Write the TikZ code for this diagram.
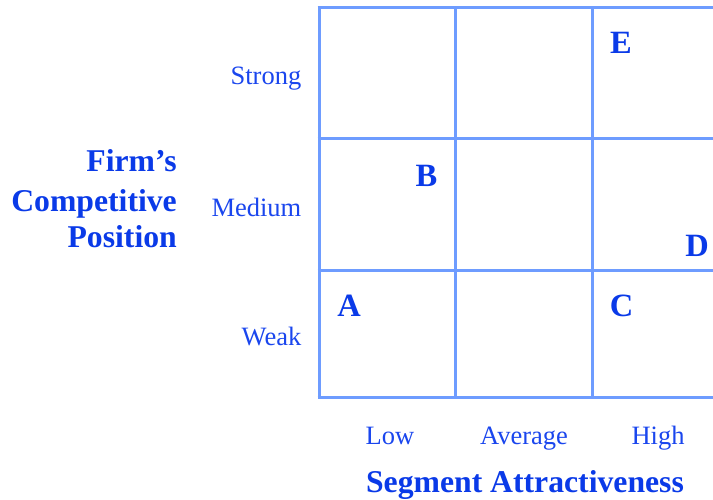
\documentclass[tikz,border=0pt]{standalone}
\usepackage{fontspec}
\setmainfont{Liberation Serif}
\definecolor{pcFFFFFF}{HTML}{FFFFFF}
\definecolor{pc6E9CFF}{HTML}{6E9CFF}
\definecolor{pc1A46EE}{HTML}{1A46EE}
\definecolor{pc0A3AE8}{HTML}{0A3AE8}

\begin{document}
\begin{tikzpicture}
\path[use as bounding box] (0bp,0bp) rectangle (713.000bp,500.000bp);
\clip (0bp,0bp) rectangle (713.000bp,500.000bp);
\path[fill=pcFFFFFF] (0.000bp,0.000bp) rectangle (713.000bp,500.000bp);
% grid
\draw[line width=3.000bp, color=pc6E9CFF] (319.000bp,492.000bp) -- (319.000bp,102.000bp);
\draw[line width=3.000bp, color=pc6E9CFF] (455.000bp,492.000bp) -- (455.000bp,102.000bp);
\draw[line width=3.000bp, color=pc6E9CFF] (592.000bp,492.000bp) -- (592.000bp,102.000bp);
\draw[line width=3.000bp, color=pc6E9CFF] (728.000bp,492.000bp) -- (728.000bp,102.000bp);
\draw[line width=3.000bp, color=pc6E9CFF] (317.500bp,492.000bp) -- (729.500bp,492.000bp);
\draw[line width=3.000bp, color=pc6E9CFF] (317.500bp,361.000bp) -- (729.500bp,361.000bp);
\draw[line width=3.000bp, color=pc6E9CFF] (317.500bp,229.000bp) -- (729.500bp,229.000bp);
\draw[line width=3.000bp, color=pc6E9CFF] (317.500bp,102.000bp) -- (729.500bp,102.000bp);
% row labels
\node[anchor=base east, inner sep=0, text=pc1A46EE] (strong) at (301.500bp,415.000bp) {\fontsize{26.500bp}{31.800bp}\selectfont Strong};
\node[anchor=base east, inner sep=0, text=pc1A46EE] (medium) at (301.500bp,283.000bp) {\fontsize{26.500bp}{31.800bp}\selectfont Medium};
\node[anchor=base east, inner sep=0, text=pc1A46EE] (weak) at (301.500bp,154.000bp) {\fontsize{26.500bp}{31.800bp}\selectfont Weak};
\node[anchor=base east, inner sep=0, text=pc0A3AE8] (firm1) at (177.000bp,328.000bp) {\fontsize{31.700bp}{38.000bp}\selectfont\bfseries Firm’s};
\node[anchor=base east, inner sep=0, text=pc0A3AE8] (firm2) at (177.000bp,288.000bp) {\fontsize{31.700bp}{38.000bp}\selectfont\bfseries Competitive};
\node[anchor=base east, inner sep=0, text=pc0A3AE8] (firm3) at (177.000bp,252.000bp) {\fontsize{31.700bp}{38.000bp}\selectfont\bfseries Position};
% column labels
\node[anchor=base, inner sep=0, text=pc1A46EE] (low) at (390.000bp,55.000bp) {\fontsize{26.500bp}{31.800bp}\selectfont Low};
\node[anchor=base, inner sep=0, text=pc1A46EE] (average) at (524.000bp,55.000bp) {\fontsize{26.500bp}{31.800bp}\selectfont Average};
\node[anchor=base, inner sep=0, text=pc1A46EE] (high) at (658.000bp,55.000bp) {\fontsize{26.500bp}{31.800bp}\selectfont High};
\node[anchor=base, inner sep=0, text=pc0A3AE8] (segment) at (525.000bp,8.000bp) {\fontsize{31.700bp}{38.000bp}\selectfont\bfseries Segment Attractiveness};
% segments
\node[anchor=base, inner sep=0, text=pc0A3AE8] (segE) at (621.000bp,446.500bp) {\fontsize{32.500bp}{39.000bp}\selectfont\bfseries E};
\node[anchor=base, inner sep=0, text=pc0A3AE8] (segB) at (426.500bp,313.500bp) {\fontsize{32.500bp}{39.000bp}\selectfont\bfseries B};
\node[anchor=base, inner sep=0, text=pc0A3AE8] (segD) at (697.000bp,243.500bp) {\fontsize{32.500bp}{39.000bp}\selectfont\bfseries D};
\node[anchor=base, inner sep=0, text=pc0A3AE8] (segA) at (349.000bp,183.500bp) {\fontsize{32.500bp}{39.000bp}\selectfont\bfseries A};
\node[anchor=base, inner sep=0, text=pc0A3AE8] (segC) at (621.500bp,183.500bp) {\fontsize{32.500bp}{39.000bp}\selectfont\bfseries C};
\end{tikzpicture}
\end{document}
